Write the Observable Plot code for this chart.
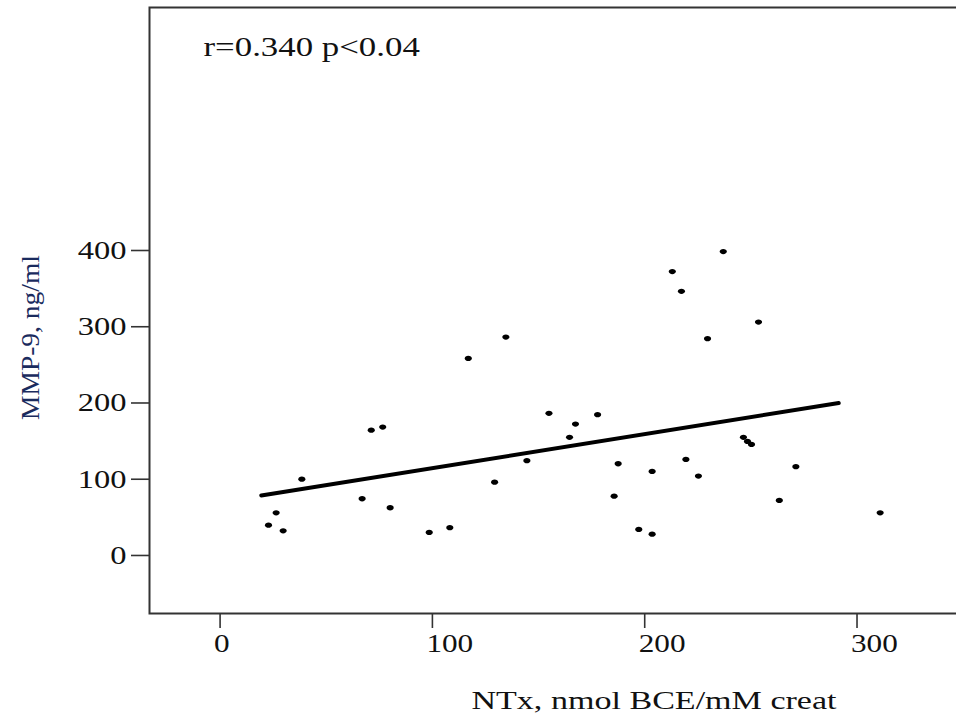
<!DOCTYPE html>
<html><head><meta charset="utf-8">
<script src="https://cdn.jsdelivr.net/npm/d3@7"></script>
<script src="https://cdn.jsdelivr.net/npm/@observablehq/plot@0.6"></script>
<style>body{margin:0;background:#fff} svg{display:block}</style>
</head><body><div id="chart"></div>
<script>
const ntx = [22.8, 26.4, 29.7, 38.5, 66.9, 71.2, 76.6, 80.1, 98.5, 108.2, 116.9, 129.3, 134.6, 144.5, 154.9, 164.6, 167.4, 177.8, 185.6, 187.5, 197.2, 203.5, 203.5, 213.0, 217.3, 219.4, 225.3, 229.6, 237.0, 246.5, 248.4, 250.3, 253.6, 263.4, 271.2, 310.9];
const mmp9 = [39.8, 56.0, 32.4, 100.1, 74.4, 164.4, 168.4, 62.6, 30.2, 36.4, 258.5, 96.2, 286.5, 124.3, 186.4, 154.9, 172.3, 184.6, 77.8, 120.3, 34.1, 28.0, 110.2, 372.3, 346.5, 126.0, 104.1, 284.4, 398.6, 154.9, 149.6, 145.7, 306.2, 72.2, 116.4, 56.0];
const fitX = [19.4, 291.4];
const fitY = [78.7, 199.9];
const xTicks = [0, 100, 200, 300];
const yTicks = [0, 100, 200, 300, 400];
const statText = "r=0.340 p<0.04";
const xTitle = "NTx, nmol BCE/mM creat";
const yTitle = "MMP-9, ng/ml";

const points = ntx.map((x, i) => ({x, y: mmp9[i]}));
const fit = fitX.map((x, i) => ({x, y: fitY[i]}));

// slightly wide oval marker (the original picture is stretched horizontally)
const oval = {
  draw(ctx, size) {
    const r = Math.sqrt(size / Math.PI), rx = r * 1.15, ry = r * 0.85, k = 0.5523;
    ctx.moveTo(rx, 0);
    ctx.bezierCurveTo(rx, ry * k, rx * k, ry, 0, ry);
    ctx.bezierCurveTo(-rx * k, ry, -rx, ry * k, -rx, 0);
    ctx.bezierCurveTo(-rx, -ry * k, -rx * k, -ry, 0, -ry);
    ctx.bezierCurveTo(rx * k, -ry, rx, -ry * k, rx, 0);
    ctx.closePath();
  }
};

const chart = Plot.plot({
  width: 956, height: 723,
  marginLeft: 149, marginRight: -2, marginTop: 7, marginBottom: 110,
  style: {fontFamily: "'Liberation Serif', 'Times New Roman', serif", background: "#fff", color: "#111"},
  x: {domain: [-33.25, 347.8]},
  y: {domain: [-76.1, 718.7]},
  marks: [
    Plot.frame({stroke: "#333", strokeWidth: 2}),
    Plot.axisX({ticks: xTicks, tickSize: 15, stroke: "#333", strokeWidth: 1.6, tickFormat: () => "", label: null}),
    Plot.text(xTicks, {x: (d) => d, text: (d) => String(d), frameAnchor: "bottom", dy: 20.5, dx: -6, textAnchor: "start", lineAnchor: "top", fontSize: 26, fill: "#111"}),
    Plot.axisY({ticks: yTicks, tickSize: 18, tickPadding: 5, fontSize: 26, label: null, stroke: "#333", strokeWidth: 1.6, tickFormat: d3.format("d")}),
    Plot.line(fit, {x: "x", y: "y", stroke: "#000", strokeWidth: 4}),
    Plot.dot(points, {x: "x", y: "y", r: 3.1, fill: "#000", symbol: oval}),
    Plot.text([statText], {frameAnchor: "top-left", dx: 54, dy: 48, textAnchor: "start", lineAnchor: "bottom", fontSize: 27, fill: "#111"}),
    Plot.text([xTitle], {frameAnchor: "bottom", dx: 100, dy: 95, textAnchor: "middle", lineAnchor: "bottom", fontSize: 26, fill: "#111"}),
    Plot.text([yTitle], {frameAnchor: "left", rotate: -90, dx: -111, dy: 27, textAnchor: "middle", lineAnchor: "bottom", fontSize: 25, fill: "#1a2b5e"})
  ]
});
document.getElementById("chart").append(chart);

function stretchNodes(nodes, k) {
  nodes.forEach(function(node) {
    const L = node.getComputedTextLength();
    node.setAttribute("textLength", L * k);
    node.setAttribute("lengthAdjust", "spacingAndGlyphs");
  });
}
const root = d3.select(chart);
stretchNodes(root.selectAll('g[aria-label="y-axis tick label"] text').nodes(), 1.25);
const texts = root.selectAll('g[aria-label="text"]').nodes();
const factors = [1.2, 1.29, 1.31, 1.1];
texts.forEach((g, i) => stretchNodes(d3.select(g).selectAll("text").nodes(), factors[i] || 1));
</script>
</body></html>
